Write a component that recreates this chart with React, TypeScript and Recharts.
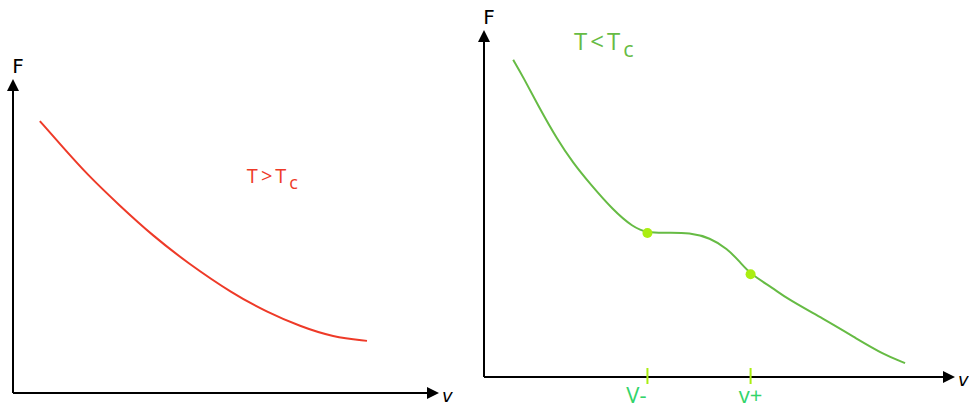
import React from 'react';
import { ComposedChart, Line, XAxis, YAxis, ReferenceLine, ReferenceDot } from 'recharts';

// Left panel: T > Tc (volume v, free energy F)
const redV = [6.3, 11.7, 17.4, 25.1, 32.9, 40.8, 51.6, 59.6, 67.4, 75.1, 83.1];
const redF = [86.6, 78.3, 69.6, 59.6, 50.0, 41.6, 31.6, 25.8, 21.2, 17.8, 16.6];

// Right panel: T < Tc
const greenV = [6.2, 8.3, 11.9, 15.5, 18.9, 22.5, 27.4, 31.6, 34.7, 38.9, 43.7, 48.0, 51.6, 54.4, 56.6, 61.4, 64.3, 72.0, 79.2, 84.7, 89.4];
const greenF = [91.4, 86.5, 77.2, 68.6, 61.7, 55.7, 48.1, 43.2, 41.5, 41.6, 41.6, 40.1, 37.0, 33.1, 29.6, 25.6, 22.6, 16.8, 11.0, 6.6, 4.0];

// Marked volumes v- and v+
const markLabels = ['V-', 'v+'];
const markV = [34.7, 56.6];
const markF = [41.5, 29.6];

const leftTitle = 'T>T';
const rightTitle = 'T<T';
const titleSub = 'c';

const redData = redV.map((v, i) => ({ v, F: redF[i] }));
const greenData = greenV.map((v, i) => ({ v, F: greenF[i] }));

const RED = '#ee3a28';
const GREEN = '#66bb44';
const LIME = '#aaee11';
const TEAL = '#33d46a';
const markLabelShift = [-11, 0];

const UpArrow = (label: string) => (props: any) => {
  const { cx, cy } = props;
  return (
    <g>
      <path d={`M${cx},${cy} L${cx - 6},${cy + 12} L${cx + 6},${cy + 12} Z`} fill="#000" />
      <text x={cx + 5} y={cy - 6} textAnchor="middle" fontFamily="DejaVu Sans" fontSize={20} fill="#000">{label}</text>
    </g>
  );
};

const RightArrow = (label: string) => (props: any) => {
  const { cx, cy } = props;
  return (
    <g>
      <path d={`M${cx},${cy} L${cx - 12},${cy - 6} L${cx - 12},${cy + 6} Z`} fill="#000" />
      <text x={cx + 3} y={cy + 9} textAnchor="start" fontFamily="DejaVu Sans" fontStyle="italic" fontSize={18} fill="#000">{label}</text>
    </g>
  );
};

const Title = (main: string, sub: string, color: string, size: number) => (props: any) => {
  const { cx, cy } = props;
  return (
    <text x={cx} y={cy} fontFamily="Open Sans" fontSize={size} fill={color} letterSpacing={3}>
      {main}
      <tspan fontSize={size * 0.9} dy={size * 0.3}>{sub}</tspan>
    </text>
  );
};

const TickMark = (label: string, shift: number) => (props: any) => {
  const { cx, cy } = props;
  return (
    <g>
      <line x1={cx} y1={cy - 9} x2={cx} y2={cy + 7} stroke={LIME} strokeWidth={2} />
      <text x={cx + shift} y={cy + 26} textAnchor="middle" fontFamily="Open Sans" fontSize={22} fill={TEAL}>
        {label}
      </text>
    </g>
  );
};

const Dot = (props: any) => {
  const { cx, cy } = props;
  return <circle cx={cx} cy={cy} r={5} fill={LIME} />;
};

export default function App() {
  return (
    <div style={{ position: 'absolute', left: 0, top: 0, width: 969, height: 408, background: '#fff', overflow: 'hidden' }}>
      <div style={{ position: 'absolute', left: 0, top: 0 }}>
        <ComposedChart width={470} height={408} margin={{ top: 79, left: 13, right: 31, bottom: 15 }}>
          <XAxis type="number" dataKey="v" domain={[0, 100]} hide allowDataOverflow />
          <YAxis type="number" dataKey="F" domain={[0, 100]} hide allowDataOverflow />
          <ReferenceLine segment={[{ x: 0, y: 0 }, { x: 98, y: 0 }]} stroke="#000" strokeWidth={2} ifOverflow="visible" />
          <ReferenceLine segment={[{ x: 0, y: 0 }, { x: 0, y: 97 }]} stroke="#000" strokeWidth={2} ifOverflow="visible" />
          <ReferenceDot x={100} y={0} shape={RightArrow('v')} ifOverflow="visible" />
          <ReferenceDot x={0} y={100} shape={UpArrow('F')} ifOverflow="visible" />
          <Line data={redData} dataKey="F" type="basis" stroke={RED} strokeWidth={2} dot={false} isAnimationActive={false} />
          <ReferenceDot x={54.9} y={66.9} shape={Title(leftTitle, titleSub, RED, 20)} ifOverflow="visible" />
        </ComposedChart>
      </div>
      <div style={{ position: 'absolute', left: 470, top: 0 }}>
        <ComposedChart width={499} height={408} margin={{ top: 30, left: 14, right: 14, bottom: 31 }}>
          <XAxis type="number" dataKey="v" domain={[0, 100]} hide allowDataOverflow />
          <YAxis type="number" dataKey="F" domain={[0, 100]} hide allowDataOverflow />
          <ReferenceLine segment={[{ x: 0, y: 0 }, { x: 98, y: 0 }]} stroke="#000" strokeWidth={2} ifOverflow="visible" />
          <ReferenceLine segment={[{ x: 0, y: 0 }, { x: 0, y: 97 }]} stroke="#000" strokeWidth={2} ifOverflow="visible" />
          <ReferenceDot x={100} y={0} shape={RightArrow('v')} ifOverflow="visible" />
          <ReferenceDot x={0} y={100} shape={UpArrow('F')} ifOverflow="visible" />
          {markV.map((v, i) => (
            <ReferenceDot key={`t${i}`} x={v} y={0} shape={TickMark(markLabels[i], markLabelShift[i])} ifOverflow="visible" />
          ))}
          <Line data={greenData} dataKey="F" type="basis" stroke={GREEN} strokeWidth={2} dot={false} isAnimationActive={false} />
          {markV.map((v, i) => (
            <ReferenceDot key={`d${i}`} x={v} y={markF[i]} shape={Dot} ifOverflow="visible" />
          ))}
          <ReferenceDot x={19.1} y={94.2} shape={Title(rightTitle, titleSub, GREEN, 24)} ifOverflow="visible" />
        </ComposedChart>
      </div>
    </div>
  );
}
